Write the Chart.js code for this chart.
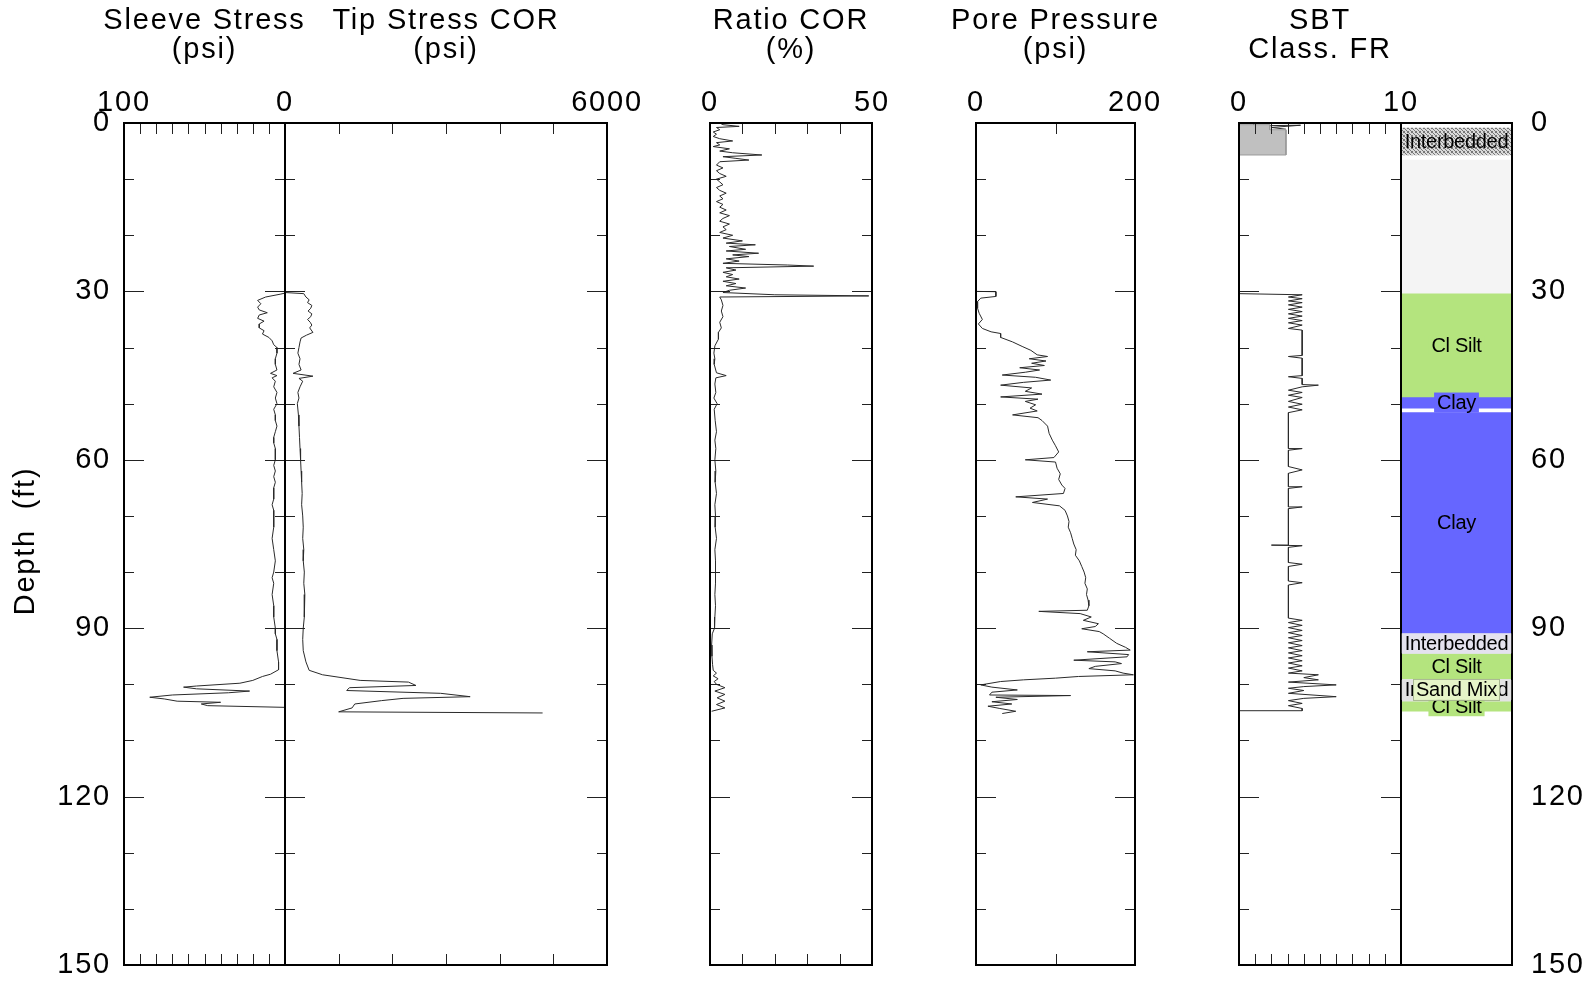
<!DOCTYPE html>
<html>
<head>
<meta charset="utf-8">
<script src="https://cdn.jsdelivr.net/npm/chart.js@4.4.0/dist/chart.umd.min.js"></script>
<style>
  html, body { margin: 0; padding: 0; background: #fff; overflow: hidden; }
  #wrap { position: relative; width: 1592px; height: 983px; }
  #wrap canvas { position: absolute; left: 0; top: 0; }
</style>
</head>
<body>
<div id="wrap"></div>
<script>
// --- data: [depth (ft), value] ---
const sleeveStress = [[30.3,0],[30.5,3],[31.0,12],[31.6,17],[32.2,15],[32.8,17],[33.3,16],[33.8,11],[34.2,16],[34.8,17],
  [35.3,13],[35.8,16],[36.5,16],[37.0,13],[37.6,14],[38.2,10],[38.8,8],[39.5,7],[40.0,5],[41.0,5],[42.0,6],[43.0,6],
  [44.0,5],[44.6,9],[45.0,5],[45.4,8],[46.0,6],[47.0,7],[48.0,5],[49.0,6],[50.0,5],[51.0,7],[52.0,6],[53.0,6],[54.0,5],
  [55.0,6],[56.0,7],[57.0,7],[58.0,6],[59.0,6],[60.0,6],[61.0,7],[62.0,6],[63.0,7],[64.0,6],[65.0,7],[66.0,7],[67.0,7],
  [68.0,8],[69.0,7],[70.0,7],[72.0,7],[74.0,8],[76.0,7],[78.0,6],[80.0,7],[81.0,8],[82.0,7],[84.0,8],[86.0,7],[88.0,7],
  [90.0,6],[91.0,6],[92.0,5],[94.0,5],[96.0,4],[97.4,4],[98.2,9],[98.6,14],[99.3,20],[99.8,28],[100.3,55],[100.5,63],
  [100.8,55],[101.2,22],[101.5,35],[101.9,70],[102.3,84],[102.6,75],[103.0,67],[103.2,40],[103.5,52],[103.8,48],[104.1,0]];

const tipStress = [[30.2,0],[30.4,350],[31.0,390],[31.5,450],[32.0,420],[32.5,500],[33.0,480],[33.5,430],[34.0,500],
  [34.5,480],[35.0,420],[35.5,470],[36.0,500],[36.5,460],[37.3,520],[37.8,400],[38.3,300],[39.0,280],[40.0,260],
  [41.0,240],[42.0,280],[43.0,260],[44.0,300],[44.6,150],[45.1,520],[45.5,260],[46.0,330],[47.0,280],[48.0,240],
  [49.0,260],[50.0,230],[52.0,250],[54.0,260],[56.0,270],[58.0,280],[60.0,290],[62.0,300],[64.0,310],[66.0,320],
  [68.0,310],[70.0,330],[72.0,340],[74.0,330],[76.0,350],[78.0,340],[80.0,360],[82.0,350],[84.0,370],[86.0,360],
  [88.0,360],[90.0,340],[92.0,330],[94.0,340],[96.0,390],[97.5,450],[98.3,700],[99.3,1400],[99.6,2300],[100.2,2440],
  [100.6,1200],[101.1,1150],[101.6,2900],[102.2,3450],[102.5,2200],[102.9,1800],[103.5,1300],[104.2,1250],
  [104.9,1000],[105.1,4800]];

const ratioCor = [[0.0,3],[0.3,4],[0.6,9],[0.8,2],[1.2,3],[1.6,1],[2.0,2],[2.4,1],[2.8,3],[3.2,7],[3.5,2],[3.9,3],
  [4.2,1],[4.6,6],[5.0,3],[5.3,7],[5.7,16],[6.0,4],[6.3,8],[6.6,12],[6.9,3],[7.5,2],[8.0,4],[8.5,2],[9.0,3],[9.5,5],
  [10.0,2],[10.5,3],[11.0,4],[11.5,2],[12.0,3],[12.5,5],[13.0,3],[13.5,4],[14.0,2],[14.5,4],[15.0,3],[15.5,5],[16.0,3],
  [16.5,6],[17.0,4],[17.5,3],[18.0,6],[18.5,4],[19.0,5],[19.5,3],[20.0,7],[20.5,4],[21.0,10],[21.4,5],[21.7,14],
  [22.0,6],[22.5,11],[22.8,5],[23.2,15],[23.5,7],[23.8,12],[24.2,5],[24.6,9],[25.0,4],[25.3,24],[25.5,32],[25.8,5],
  [26.2,8],[26.6,4],[27.0,7],[27.4,5],[27.8,9],[28.2,4],[28.6,8],[29.0,5],[29.4,11],[29.8,6],[30.2,4],[30.6,20],
  [30.8,49],[31.0,3],[31.5,3.5],[32.5,4],[33.5,3.5],[34.5,4],[35.5,3],[36.5,3.5],[37.3,2.6],[38.5,2.6],[39.7,1.5],
  [41.0,1.2],[42.0,1.5],[43.0,1.3],[44.5,2],[45.0,5],[45.4,1.8],[46.5,1.5],[48.0,1.8],[49.0,1.2],[50.0,2.2],[51.0,1.3],
  [53.0,1.6],[55.0,2.0],[56.5,1.5],[58.0,1.8],[60.0,1.5],[62.0,1.8],[64.0,1.6],[66.0,2.0],[68.0,1.5],[70.0,1.7],
  [72.0,1.6],[74.0,2],[76.0,1.5],[78.0,1.7],[80.0,1.6],[82.0,1.8],[84.0,1.5],[86.0,1.7],[88.0,1.5],[90.0,1.4],
  [91.0,0.7],[93.0,0.5],[95.0,0.6],[96.5,0.8],[97.5,1.0],[98.0,2],[98.5,1],[99.0,2.5],[99.5,1.3],[100.0,2],[100.6,4.6],
  [101.2,1.5],[101.8,4.6],[102.4,2.2],[103.0,4.6],[103.6,2],[104.2,4.6],[104.8,0.5]];

const porePressure = [[30.0,0],[30.05,25],[30.9,25],[31.2,6],[31.8,2],[33.0,2],[33.9,4],[35.0,8],[35.8,3],[36.6,8],
  [37.2,19],[37.5,31],[38.2,31],[39.0,46],[39.8,58],[40.5,69],[41.3,77],[41.6,90],[42.0,67],[42.4,88],[42.8,70],
  [43.2,86],[43.6,55],[44.0,80],[44.4,62],[44.9,33],[45.3,75],[45.8,94],[46.2,60],[46.7,31],[47.2,70],[47.8,62],
  [48.3,83],[48.8,31],[49.2,78],[49.6,62],[50.2,75],[50.8,68],[51.3,77],[52.0,46],[52.5,78],[53.0,83],[54.0,90],
  [55.3,92],[56.5,96],[57.5,100],[58.6,104],[59.6,98],[60.0,62],[60.4,100],[61.5,102],[62.5,106],[63.5,104],[64.5,108],
  [65.1,112],[66.0,110],[66.6,50],[67.0,90],[67.6,71],[68.2,105],[69.0,112],[70.0,115],[71.0,117],[72.0,116],[73.0,119],
  [74.0,121],[75.0,123],[76.0,126],[77.0,125],[78.0,130],[79.0,133],[80.0,136],[81.0,138],[82.0,137],[83.0,140],
  [84.0,139],[85.0,141],[86.0,142],[86.8,140],[87.0,79],[87.4,131],[88.0,145],[88.6,135],[89.2,154],[89.7,150],
  [90.1,133],[90.6,155],[91.0,160],[91.8,168],[92.7,177],[93.4,188],[93.9,194],[94.2,140],[94.7,192],[95.1,190],
  [95.7,123],[96.0,175],[96.3,183],[96.8,150],[97.2,142],[97.6,175],[98.0,185],[98.3,198],[98.6,129],[98.9,100],
  [99.2,60],[99.5,31],[100.1,6],[100.5,20],[101.0,52],[101.4,20],[101.9,17],[102.0,119],[102.3,25],[102.7,52],
  [103.1,20],[103.5,45],[103.9,15],[104.3,30],[104.8,50],[105.2,33]];

const sbtFr = [[30.4,0],[30.6,3.9],[31.0,3.05],[31.3,3.9],[31.7,3.05],[32.0,3.9],[32.4,3.05],[32.8,3.9],[33.2,3.05],
  [33.6,3.9],[34.0,3.05],[34.4,3.9],[34.8,3.05],[35.2,3.9],[35.6,3.05],[36.0,3.9],[36.6,3.05],[36.9,3.9],[41.4,3.9],
  [41.6,3.05],[41.9,3.9],[45.0,3.9],[45.2,3.05],[45.5,3.9],[46.6,3.9],[46.7,4.9],[47.0,3.9],[47.6,3.05],[48.0,3.9],
  [48.5,3.05],[48.9,3.9],[49.6,3.05],[50.1,3.9],[50.6,3.05],[51.1,3.9],[51.6,3.05],[52.3,3.05],[58.0,3.05],[58.0,3.9],
  [58.3,3.05],[61.2,3.05],[61.8,3.9],[62.4,3.05],[64.8,3.05],[64.8,3.9],[65.1,3.05],[68.4,3.05],[68.4,3.9],[68.7,3.05],
  [75.2,3.05],[75.2,2.0],[75.3,3.9],[75.6,3.05],[78.3,3.05],[78.6,3.9],[79.0,3.05],[81.6,3.05],[81.9,3.9],[82.3,3.05],
  [88.2,3.05],[88.6,3.9],[89.0,3.05],[89.5,3.9],[89.9,3.05],[90.4,3.9],[90.8,3.05],[91.3,3.9],[91.7,3.05],[92.2,3.9],
  [92.6,3.05],[93.1,3.9],[93.5,3.05],[94.0,3.9],[94.4,3.05],[94.9,3.9],[95.3,3.05],[95.8,3.9],[96.2,3.05],[96.7,3.9],
  [97.1,3.05],[97.6,3.9],[98.0,3.05],[98.3,4.9],[98.8,4.0],[99.2,4.9],[99.6,3.05],[100.1,6.0],[100.4,4.0],[100.7,3.05],
  [101.1,4.0],[101.6,3.05],[102.2,6.0],[102.5,4.0],[102.9,3.05],[103.4,3.9],[103.8,3.05],[104.3,3.9],[104.7,3.9],[104.7,0]];

// near-surface block of the FR track (filled)
const sbtFrTop = [[0.3,0],[0.3,1.9],[1.2,1.9],[1.2,2.9],[5.7,2.9],[5.7,0]];
const sbtFrTopLines = [[0.1,0.9],[0.5,0.9],[0.4,3.8],[0.8,2.0],[1.1,2.9]];

// soil behaviour type layers
const classNames  = ['Interbedded', '', 'Cl Silt', 'Clay', 'Clay', 'Interbedded', 'Cl Silt', 'Interbedded', 'Cl Silt'];
const classTop    = [0.9, 6.6, 30.3, 48.8, 51.6, 90.9, 94.5, 99.0, 103.0];
const classBottom = [5.7, 30.3, 48.8, 50.8, 90.9, 94.5, 99.0, 103.0, 104.8];
const overlayNames  = ['Sand Mix'];
const overlayDepths = [101.0];

// ticks and labels
const depthTicks  = [10, 20, 30, 40, 50, 60, 70, 80, 90, 100, 110, 120, 130, 140];
const depthLabels = [0, 30, 60, 90, 120, 150];
const sleeveTicks = [10, 20, 30, 40, 50, 60, 70, 80, 90];
const tipTicks    = [1000, 2000, 3000, 4000, 5000];
const ratioTicks  = [10, 20, 30, 40];
const poreTicks   = [100];
const frTicks     = [1, 2, 3, 4, 5, 6, 7, 8, 9];

// --- layout ---
const W = 1592, H = 983;
const TOP = 123, BOTTOM = 965;
const FONT = '"Liberation Sans", Arial, Helvetica, sans-serif';
const wrap = document.getElementById('wrap');

function hatchPattern() {
  const c = document.createElement('canvas');
  c.width = 4; c.height = 4;
  const g = c.getContext('2d');
  g.fillStyle = '#dadada';
  g.fillRect(0, 0, 4, 4);
  g.fillStyle = '#777';
  [[0,0],[1,1],[2,2],[3,3],[3,0],[0,3]].forEach(p => g.fillRect(p[0], p[1], 1, 1));
  return g.createPattern(c, 'repeat');
}

const classFill = [hatchPattern(), '#f4f4f4', '#b4e47e', '#6666ff', '#6666ff', '#e4e2ee', '#b4e47e', '#e3e3e3', '#b4e47e'];

function addCanvas() {
  const c = document.createElement('canvas');
  c.width = W; c.height = H;
  c.style.width = W + 'px'; c.style.height = H + 'px';
  wrap.appendChild(c);
  return c;
}

function toPoints(rows) {
  return rows.map(r => ({ x: r[1], y: r[0] }));
}

function line(ctx, x1, y1, x2, y2) {
  ctx.beginPath();
  ctx.moveTo(x1, y1);
  ctx.lineTo(x2, y2);
  ctx.stroke();
}

// frame, inward ticks and text for a log track
const logFrame = {
  id: 'logFrame',
  afterDatasetsDraw(chart, args, o) {
    const { ctx, chartArea: a, scales: { x, y } } = chart;
    ctx.save();
    ctx.strokeStyle = '#222';
    ctx.lineWidth = 1;

    if (o.ticks !== false) {
      depthTicks.forEach(d => {
        const py = Math.round(y.getPixelForValue(d)) + 0.5;
        const len = depthLabels.includes(d) ? 20 : 10;
        line(ctx, a.left, py, a.left + len, py);
        line(ctx, a.right, py, a.right - len, py);
      });
      (o.xTicks || []).forEach(v => {
        const px = Math.round(x.getPixelForValue(v)) + 0.5;
        line(ctx, px, a.top, px, a.top + 11);
        line(ctx, px, a.bottom, px, a.bottom - 11);
      });
    }

    ctx.strokeStyle = '#000';
    ctx.lineWidth = 2;
    ctx.strokeRect(a.left, a.top, a.right - a.left, a.bottom - a.top);

    ctx.fillStyle = '#000';
    ctx.font = '29px ' + FONT;
    ctx.letterSpacing = '1.8px';
    ctx.textBaseline = 'middle';
    ctx.textAlign = 'center';
    (o.xLabels || []).forEach(v => ctx.fillText(String(v), x.getPixelForValue(v), a.top - 20));
    (o.title || []).forEach((t, i) => ctx.fillText(t, (a.left + a.right) / 2, 21 + i * 29));

    if (o.depthSide === 'left') {
      ctx.textAlign = 'right';
      depthLabels.forEach(d => ctx.fillText(String(d), a.left - 13, y.getPixelForValue(d)));
    } else if (o.depthSide === 'right') {
      ctx.textAlign = 'left';
      depthLabels.forEach(d => ctx.fillText(String(d), a.right + 19, y.getPixelForValue(d)));
    }
    if (o.yTitle) {
      ctx.translate(26, (a.top + a.bottom) / 2 - 3);
      ctx.rotate(-Math.PI / 2);
      ctx.textAlign = 'center';
      ctx.fillText(o.yTitle, 0, 0);
    }
    ctx.restore();
  }
};

// labels of the soil class column
const classLabels = {
  id: 'classLabels',
  afterDatasetsDraw(chart) {
    const { ctx, chartArea: a, scales: { y } } = chart;
    const cx = (a.left + a.right) / 2;
    ctx.save();
    ctx.font = '20px ' + FONT;
    ctx.letterSpacing = '-0.3px';
    ctx.textAlign = 'center';
    ctx.textBaseline = 'middle';
    const drawLabel = (text, depth, bg, border) => {
      const py = y.getPixelForValue(depth);
      const w = ctx.measureText(text).width + 6;
      if (bg) {
        ctx.fillStyle = bg;
        ctx.fillRect(cx - w / 2, py - 10, w, 20);
      }
      if (border) {
        ctx.strokeStyle = border;
        ctx.lineWidth = 1;
        ctx.strokeRect(cx - w / 2 + 0.5, py - 10.5, w - 1, 21);
      }
      ctx.fillStyle = '#000';
      ctx.fillText(text, cx, py + 1);
    };
    classNames.forEach((n, i) => {
      if (!n) return;
      const bg = typeof classFill[i] === 'string' ? classFill[i] : null;
      drawLabel(n, (classTop[i] + classBottom[i]) / 2, bg, null);
    });
    overlayNames.forEach((n, i) => drawLabel(n, overlayDepths[i], '#e6f5c8', '#a8b890'));
    ctx.restore();
  }
};

Chart.register(logFrame, classLabels);

const traceStyle = {
  borderColor: '#2a2a2a',
  borderWidth: 1,
  pointRadius: 0,
  showLine: true,
  fill: false,
  tension: 0
};

function depthAxis() {
  return { type: 'linear', min: 0, max: 150, reverse: true, display: false };
}

function baseOptions(left, right, xAxis, frame) {
  return {
    responsive: false,
    animation: false,
    events: [],
    layout: { padding: { left: left, right: W - right, top: TOP, bottom: H - BOTTOM } },
    scales: { x: xAxis, y: depthAxis() },
    plugins: {
      legend: { display: false },
      tooltip: { enabled: false },
      logFrame: frame,
      classLabels: false
    }
  };
}

// sleeve stress (reversed, 100 -> 0)
new Chart(addCanvas(), {
  type: 'scatter',
  data: { datasets: [Object.assign({ data: toPoints(sleeveStress) }, traceStyle)] },
  options: baseOptions(124, 285,
    { type: 'linear', min: 0, max: 100, reverse: true, display: false },
    { xTicks: sleeveTicks, xLabels: [100, 0], title: ['Sleeve Stress', '(psi)'],
      depthSide: 'left', yTitle: 'Depth  (ft)' })
});

// tip stress
new Chart(addCanvas(), {
  type: 'scatter',
  data: { datasets: [Object.assign({ data: toPoints(tipStress) }, traceStyle)] },
  options: baseOptions(285, 607,
    { type: 'linear', min: 0, max: 6000, display: false },
    { xTicks: tipTicks, xLabels: [6000], title: ['Tip Stress COR', '(psi)'] })
});

// friction ratio
new Chart(addCanvas(), {
  type: 'scatter',
  data: { datasets: [Object.assign({ data: toPoints(ratioCor) }, traceStyle)] },
  options: baseOptions(710, 872,
    { type: 'linear', min: 0, max: 50, display: false },
    { xTicks: ratioTicks, xLabels: [0, 50], title: ['Ratio COR', '(%)'] })
});

// pore pressure
new Chart(addCanvas(), {
  type: 'scatter',
  data: { datasets: [Object.assign({ data: toPoints(porePressure) }, traceStyle)] },
  options: baseOptions(976, 1135,
    { type: 'linear', min: 0, max: 200, display: false },
    { xTicks: poreTicks, xLabels: [0, 200], title: ['Pore Pressure', '(psi)'] })
});

// SBT classification number
new Chart(addCanvas(), {
  type: 'scatter',
  data: {
    datasets: [
      Object.assign({}, traceStyle, { data: toPoints(sbtFrTop), fill: 'shape', backgroundColor: '#c0c0c0', borderColor: '#9a9a9a' }),
      Object.assign({}, traceStyle, { data: toPoints(sbtFrTopLines) }),
      Object.assign({}, traceStyle, { data: toPoints(sbtFr) })
    ]
  },
  options: baseOptions(1239, 1401,
    { type: 'linear', min: 0, max: 10, display: false },
    { xTicks: frTicks, xLabels: [0, 10], title: ['SBT', 'Class. FR'] })
});

// soil class column
const classOpts = baseOptions(1401, 1512,
  { type: 'category', display: false, offset: true },
  { ticks: false, depthSide: 'right' });
classOpts.plugins.classLabels = {};
new Chart(addCanvas(), {
  type: 'bar',
  data: {
    labels: ['SBT'],
    datasets: classNames.map((n, i) => ({
      label: n || 'unclassified',
      data: [[classTop[i], classBottom[i]]],
      backgroundColor: classFill[i],
      borderWidth: 0,
      barPercentage: 1,
      categoryPercentage: 1,
      grouped: false
    }))
  },
  options: classOpts
});
</script>
</body>
</html>
